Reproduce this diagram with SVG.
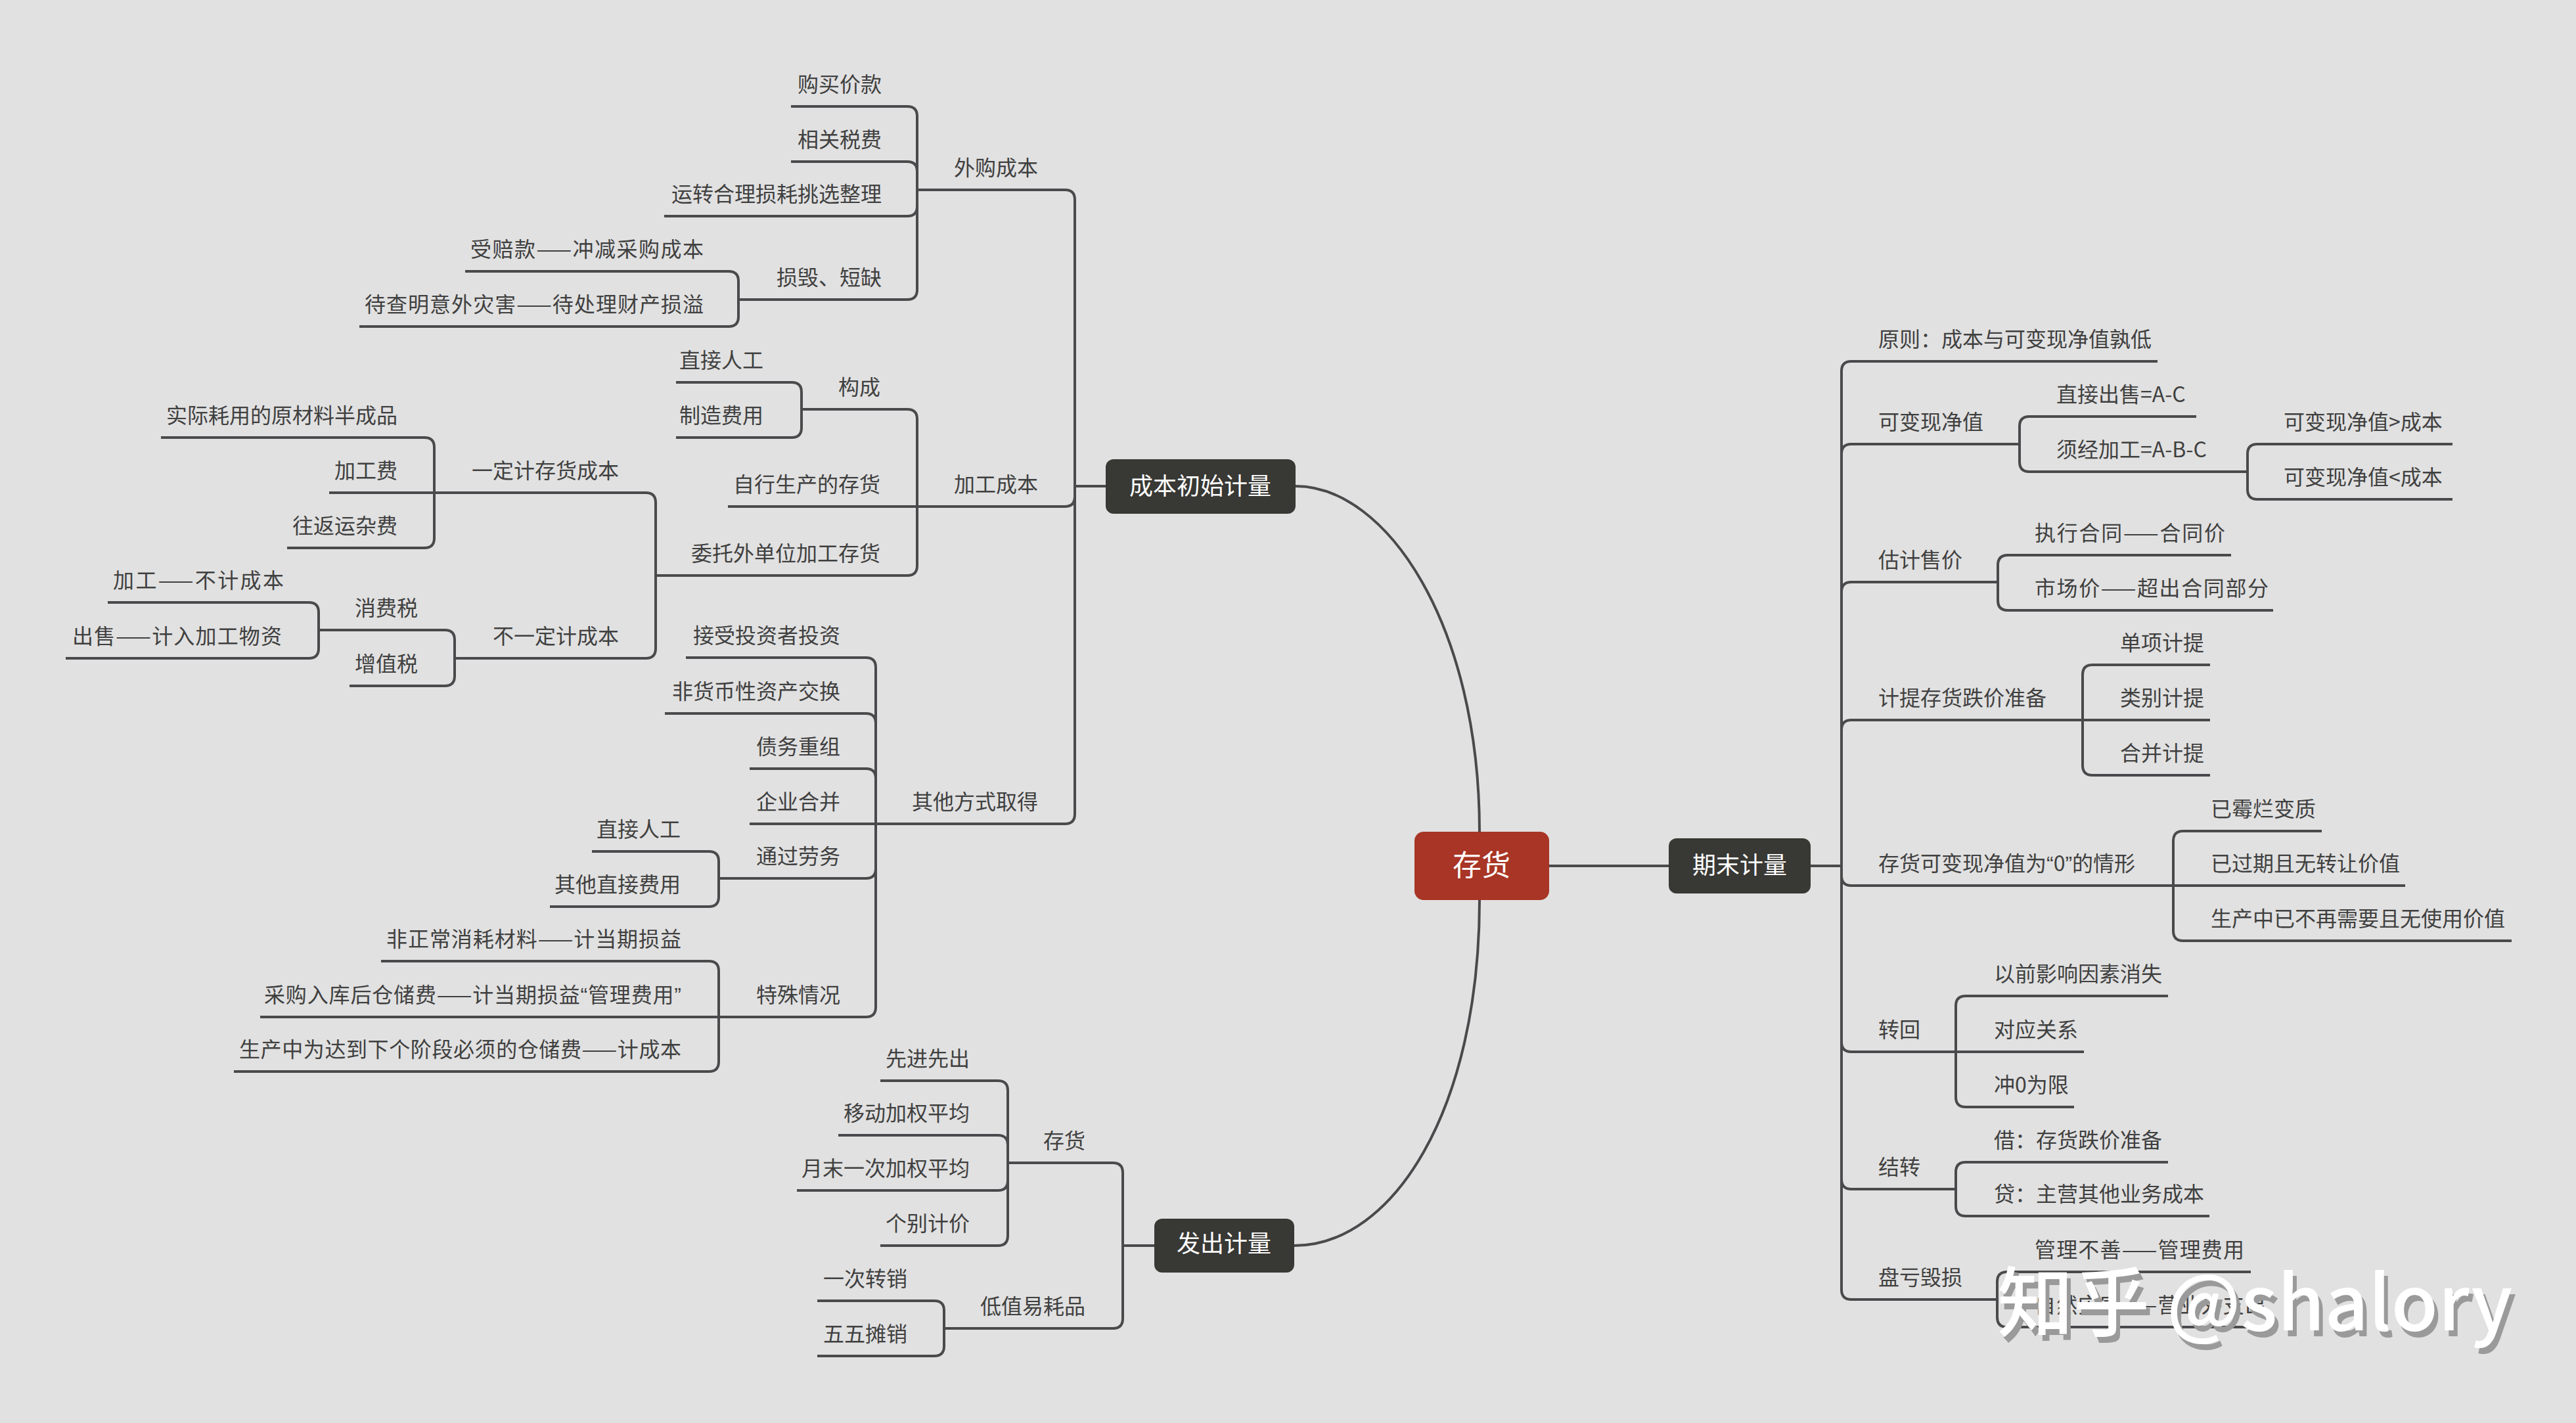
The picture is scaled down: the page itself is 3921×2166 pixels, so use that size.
<svg xmlns="http://www.w3.org/2000/svg" width="3921" height="2166" viewBox="0 0 3921 2166">
<style>
.t{font-family:"Noto Sans CJK SC","Noto Sans",sans-serif;font-size:32px;fill:#404040}
.e{text-anchor:end}
.u{fill:none;stroke:#4a4a4d;stroke-width:4;stroke-linecap:butt}
.c{fill:none;stroke:#4a4a4d;stroke-width:4;stroke-linejoin:round}
.q{font-family:"Liberation Sans",sans-serif}
.mt{font-family:"Noto Sans CJK SC","Noto Sans",sans-serif;fill:#ffffff;text-anchor:middle}
.wm{font-family:"Noto Sans CJK SC","Noto Sans",sans-serif;font-size:116px;font-weight:500}
</style>
<rect width="3921" height="2166" fill="#e1e1e1"/>

<g id="connectors">
<path class="c" d="M1972,740 C2110,740 2252,950 2252,1266"/>
<path class="c" d="M2252,1370 C2252,1690 2120,1896 1970,1896"/>
<path class="c" d="M2358,1318 H2540"/>
<path class="c" d="M1683,740 H1636"/>
<path class="c" d="M1636,740 V304 Q1636,289 1621,289 H1592"/>
<path class="c" d="M1636,740 V756 Q1636,771 1621,771 H1592"/>
<path class="c" d="M1636,740 V1239 Q1636,1254 1621,1254 H1592"/>
<path class="c" d="M1396,289 V177 Q1396,162 1381,162 H1354"/>
<path class="c" d="M1396,289 V261 Q1396,246 1381,246 H1354"/>
<path class="c" d="M1396,289 V314 Q1396,329 1381,329 H1354"/>
<path class="c" d="M1396,289 V441 Q1396,456 1381,456 H1354"/>
<path class="c" d="M1124,456 V428 Q1124,413 1109,413 H1082"/>
<path class="c" d="M1124,456 V482 Q1124,497 1109,497 H1082"/>
<path class="c" d="M1396,771 V638 Q1396,623 1381,623 H1352"/>
<path class="c" d="M1396,771 H1352"/>
<path class="c" d="M1396,771 V861 Q1396,876 1381,876 H1352"/>
<path class="c" d="M1220,623 V597 Q1220,582 1205,582 H1174"/>
<path class="c" d="M1220,623 V651 Q1220,666 1205,666 H1174"/>
<path class="c" d="M998,876 V765 Q998,750 983,750 H954"/>
<path class="c" d="M998,876 V987 Q998,1002 983,1002 H954"/>
<path class="c" d="M661,750 V681 Q661,666 646,666 H617"/>
<path class="c" d="M661,750 H617"/>
<path class="c" d="M661,750 V819 Q661,834 646,834 H617"/>
<path class="c" d="M692,1002 V974 Q692,959 677,959 H648"/>
<path class="c" d="M692,1002 V1029 Q692,1044 677,1044 H648"/>
<path class="c" d="M485,959 V932 Q485,917 470,917 H442"/>
<path class="c" d="M485,959 V987 Q485,1002 470,1002 H442"/>
<path class="c" d="M1333,1254 V1016 Q1333,1001 1318,1001 H1291"/>
<path class="c" d="M1333,1254 V1101 Q1333,1086 1318,1086 H1291"/>
<path class="c" d="M1333,1254 V1185 Q1333,1170 1318,1170 H1291"/>
<path class="c" d="M1333,1254 H1291"/>
<path class="c" d="M1333,1254 V1322 Q1333,1337 1318,1337 H1291"/>
<path class="c" d="M1333,1254 V1533 Q1333,1548 1318,1548 H1291"/>
<path class="c" d="M1094,1337 V1311 Q1094,1296 1079,1296 H1048"/>
<path class="c" d="M1094,1337 V1365 Q1094,1380 1079,1380 H1048"/>
<path class="c" d="M1094,1548 V1478 Q1094,1463 1079,1463 H1048"/>
<path class="c" d="M1094,1548 H1048"/>
<path class="c" d="M1094,1548 V1616 Q1094,1631 1079,1631 H1048"/>
<path class="c" d="M1757,1896 H1709"/>
<path class="c" d="M1709,1896 V1785 Q1709,1770 1694,1770 H1664"/>
<path class="c" d="M1709,1896 V2007 Q1709,2022 1694,2022 H1664"/>
<path class="c" d="M1534,1770 V1660 Q1534,1645 1519,1645 H1488"/>
<path class="c" d="M1534,1770 V1743 Q1534,1728 1519,1728 H1488"/>
<path class="c" d="M1534,1770 V1797 Q1534,1812 1519,1812 H1488"/>
<path class="c" d="M1534,1770 V1881 Q1534,1896 1519,1896 H1488"/>
<path class="c" d="M1437,2022 V1995 Q1437,1980 1422,1980 H1393"/>
<path class="c" d="M1437,2022 V2049 Q1437,2064 1422,2064 H1393"/>
<path class="c" d="M2756,1318 H2803"/>
<path class="c" d="M2803,1318 V565 Q2803,550 2818,550 H2847"/>
<path class="c" d="M2803,1318 V691 Q2803,676 2818,676 H2847"/>
<path class="c" d="M2803,1318 V901 Q2803,886 2818,886 H2847"/>
<path class="c" d="M2803,1318 V1111 Q2803,1096 2818,1096 H2847"/>
<path class="c" d="M2803,1318 V1333 Q2803,1348 2818,1348 H2847"/>
<path class="c" d="M2803,1318 V1586 Q2803,1601 2818,1601 H2847"/>
<path class="c" d="M2803,1318 V1795 Q2803,1810 2818,1810 H2847"/>
<path class="c" d="M2803,1318 V1963 Q2803,1978 2818,1978 H2847"/>
<path class="c" d="M3074,676 V649 Q3074,634 3089,634 H3118"/>
<path class="c" d="M3074,676 V703 Q3074,718 3089,718 H3118"/>
<path class="c" d="M3421,718 V691 Q3421,676 3436,676 H3464"/>
<path class="c" d="M3421,718 V745 Q3421,760 3436,760 H3464"/>
<path class="c" d="M3041,886 V860 Q3041,845 3056,845 H3086"/>
<path class="c" d="M3041,886 V914 Q3041,929 3056,929 H3086"/>
<path class="c" d="M3170,1096 V1027 Q3170,1012 3185,1012 H3215"/>
<path class="c" d="M3170,1096 H3215"/>
<path class="c" d="M3170,1096 V1165 Q3170,1180 3185,1180 H3215"/>
<path class="c" d="M3308,1348 V1280 Q3308,1265 3323,1265 H3353"/>
<path class="c" d="M3308,1348 H3353"/>
<path class="c" d="M3308,1348 V1417 Q3308,1432 3323,1432 H3353"/>
<path class="c" d="M2977,1601 V1531 Q2977,1516 2992,1516 H3023"/>
<path class="c" d="M2977,1601 H3023"/>
<path class="c" d="M2977,1601 V1670 Q2977,1685 2992,1685 H3023"/>
<path class="c" d="M2977,1810 V1784 Q2977,1769 2992,1769 H3023"/>
<path class="c" d="M2977,1810 V1836 Q2977,1851 2992,1851 H3023"/>
<path class="c" d="M3040,1978 V1951 Q3040,1936 3055,1936 H3086"/>
<path class="c" d="M3040,1978 V2005 Q3040,2020 3055,2020 H3086"/>
</g>

<g id="root"><rect x="2153" y="1266" width="205" height="104" rx="14" fill="#a83525"/><text class="mt" x="2255" y="1333" font-size="44">存货</text></g>
<g id="n-chengben"><rect x="1683" y="699" width="289" height="83" rx="12" fill="#383834"/><text class="mt" x="1827" y="753" font-size="36">成本初始计量</text></g>
<g id="n-qimo"><rect x="2540" y="1276" width="216" height="84" rx="12" fill="#383834"/><text class="mt" x="2648" y="1330" font-size="36">期末计量</text></g>
<g id="n-fachu"><rect x="1757" y="1855" width="213" height="82" rx="12" fill="#383834"/><text class="mt" x="1863" y="1906" font-size="36">发出计量</text></g>

<g id="a1"><path class="u" d="M1396,289 H1592"/><text class="t e" x="1580" y="267">外购成本</text></g>
<g id="a2"><path class="u" d="M1396,771 H1592"/><text class="t e" x="1580" y="749">加工成本</text></g>
<g id="a3"><path class="u" d="M1333,1254 H1592"/><text class="t e" x="1580" y="1232">其他方式取得</text></g>
<g id="b1"><path class="u" d="M1204,162 H1354"/><text class="t e" x="1342" y="140">购买价款</text></g>
<g id="b2"><path class="u" d="M1204,246 H1354"/><text class="t e" x="1342" y="224">相关税费</text></g>
<g id="b3"><path class="u" d="M1011,329 H1354"/><text class="t e" x="1342" y="307">运转合理损耗挑选整理</text></g>
<g id="b4"><path class="u" d="M1124,456 H1354"/><text class="t e" x="1342" y="434">损毁、短缺</text></g>
<g id="c1"><path class="u" d="M708,413 H1082"/><text class="t e" x="1071" y="391" textLength="355" lengthAdjust="spacing">受赔款——冲减采购成本</text></g>
<g id="c2"><path class="u" d="M547,497 H1082"/><text class="t e" x="1071" y="475" textLength="516" lengthAdjust="spacing">待查明意外灾害——待处理财产损溢</text></g>
<g id="b5"><path class="u" d="M1220,623 H1352"/><text class="t e" x="1340" y="601">构成</text></g>
<g id="b6"><path class="u" d="M1108,771 H1352"/><text class="t e" x="1340" y="749">自行生产的存货</text></g>
<g id="b7"><path class="u" d="M998,876 H1352"/><text class="t e" x="1340" y="854">委托外单位加工存货</text></g>
<g id="c3"><path class="u" d="M1029,582 H1174"/><text class="t e" x="1162" y="560">直接人工</text></g>
<g id="c4"><path class="u" d="M1029,666 H1174"/><text class="t e" x="1162" y="644">制造费用</text></g>
<g id="c5"><path class="u" d="M661,750 H954"/><text class="t e" x="942" y="728">一定计存货成本</text></g>
<g id="c6"><path class="u" d="M692,1002 H954"/><text class="t e" x="942" y="980">不一定计成本</text></g>
<g id="d1"><path class="u" d="M245,666 H617"/><text class="t e" x="605" y="644">实际耗用的原材料半成品</text></g>
<g id="d2"><path class="u" d="M501,750 H617"/><text class="t e" x="605" y="728">加工费</text></g>
<g id="d3"><path class="u" d="M437,834 H617"/><text class="t e" x="605" y="812">往返运杂费</text></g>
<g id="d4"><path class="u" d="M485,959 H648"/><text class="t e" x="636" y="937">消费税</text></g>
<g id="d5"><path class="u" d="M532,1044 H648"/><text class="t e" x="636" y="1022">增值税</text></g>
<g id="e1"><path class="u" d="M164,917 H442"/><text class="t e" x="432" y="895" textLength="260" lengthAdjust="spacing">加工——不计成本</text></g>
<g id="e2"><path class="u" d="M100,1002 H442"/><text class="t e" x="429" y="980" textLength="319" lengthAdjust="spacing">出售——计入加工物资</text></g>
<g id="b8"><path class="u" d="M1044,1001 H1291"/><text class="t e" x="1279" y="979">接受投资者投资</text></g>
<g id="b9"><path class="u" d="M1012,1086 H1291"/><text class="t e" x="1279" y="1064">非货币性资产交换</text></g>
<g id="b10"><path class="u" d="M1141,1170 H1291"/><text class="t e" x="1279" y="1148">债务重组</text></g>
<g id="b11"><path class="u" d="M1141,1254 H1291"/><text class="t e" x="1279" y="1232">企业合并</text></g>
<g id="b12"><path class="u" d="M1094,1337 H1291"/><text class="t e" x="1279" y="1315">通过劳务</text></g>
<g id="b13"><path class="u" d="M1094,1548 H1291"/><text class="t e" x="1279" y="1526">特殊情况</text></g>
<g id="c7"><path class="u" d="M901,1296 H1048"/><text class="t e" x="1036" y="1274">直接人工</text></g>
<g id="c8"><path class="u" d="M837,1380 H1048"/><text class="t e" x="1036" y="1358">其他直接费用</text></g>
<g id="c9"><path class="u" d="M580,1463 H1048"/><text class="t e" x="1037" y="1441" textLength="449" lengthAdjust="spacing">非正常消耗材料——计当期损益</text></g>
<g id="c10"><path class="u" d="M396,1548 H1048"/><text class="t e" x="1037" y="1526" textLength="635" lengthAdjust="spacing">采购入库后仓储费——计当期损益<tspan class="q">“</tspan>管理费用<tspan class="q">”</tspan></text></g>
<g id="c11"><path class="u" d="M356,1631 H1048"/><text class="t e" x="1037" y="1609" textLength="673" lengthAdjust="spacing">生产中为达到下个阶段必须的仓储费——计成本</text></g>
<g id="f1"><path class="u" d="M1534,1770 H1664"/><text class="t e" x="1652" y="1748">存货</text></g>
<g id="f2"><path class="u" d="M1437,2022 H1664"/><text class="t e" x="1652" y="2000">低值易耗品</text></g>
<g id="g1"><path class="u" d="M1340,1645 H1488"/><text class="t e" x="1476" y="1623">先进先出</text></g>
<g id="g2"><path class="u" d="M1276,1728 H1488"/><text class="t e" x="1476" y="1706">移动加权平均</text></g>
<g id="g3"><path class="u" d="M1213,1812 H1488"/><text class="t e" x="1476" y="1790">月末一次加权平均</text></g>
<g id="g4"><path class="u" d="M1340,1896 H1488"/><text class="t e" x="1476" y="1874">个别计价</text></g>
<g id="g5"><path class="u" d="M1244,1980 H1393"/><text class="t e" x="1381" y="1958">一次转销</text></g>
<g id="g6"><path class="u" d="M1244,2064 H1393"/><text class="t e" x="1381" y="2042">五五摊销</text></g>

<g id="h1"><path class="u" d="M2847,550 H3284"/><text class="t" x="2859" y="528">原则：成本与可变现净值孰低</text></g>
<g id="h2"><path class="u" d="M2847,676 H3074"/><text class="t" x="2859" y="654">可变现净值</text></g>
<g id="h3"><path class="u" d="M2847,886 H3041"/><text class="t" x="2859" y="864">估计售价</text></g>
<g id="h4"><path class="u" d="M2847,1096 H3170"/><text class="t" x="2859" y="1074">计提存货跌价准备</text></g>
<g id="h5"><path class="u" d="M2847,1348 H3308"/><text class="t" x="2859" y="1326">存货可变现净值为<tspan class="q">“</tspan>0<tspan class="q">”</tspan>的情形</text></g>
<g id="h6"><path class="u" d="M2847,1601 H2977"/><text class="t" x="2859" y="1579">转回</text></g>
<g id="h7"><path class="u" d="M2847,1810 H2977"/><text class="t" x="2859" y="1788">结转</text></g>
<g id="h8"><path class="u" d="M2847,1978 H3040"/><text class="t" x="2859" y="1956">盘亏毁损</text></g>
<g id="i1"><path class="u" d="M3118,634 H3343"/><text class="t" x="3130" y="612">直接出售=A-C</text></g>
<g id="i2"><path class="u" d="M3118,718 H3421"/><text class="t" x="3130" y="696">须经加工=A-B-C</text></g>
<g id="j1"><path class="u" d="M3464,676 H3733"/><text class="t" x="3476" y="654">可变现净值&gt;成本</text></g>
<g id="j2"><path class="u" d="M3464,760 H3733"/><text class="t" x="3476" y="738">可变现净值&lt;成本</text></g>
<g id="i3"><path class="u" d="M3086,845 H3396"/><text class="t" x="3097" y="823" textLength="290" lengthAdjust="spacing">执行合同——合同价</text></g>
<g id="i4"><path class="u" d="M3086,929 H3460"/><text class="t" x="3097" y="907" textLength="356" lengthAdjust="spacing">市场价——超出合同部分</text></g>
<g id="i5"><path class="u" d="M3215,1012 H3364"/><text class="t" x="3227" y="990">单项计提</text></g>
<g id="i6"><path class="u" d="M3215,1096 H3364"/><text class="t" x="3227" y="1074">类别计提</text></g>
<g id="i7"><path class="u" d="M3215,1180 H3364"/><text class="t" x="3227" y="1158">合并计提</text></g>
<g id="i8"><path class="u" d="M3353,1265 H3534"/><text class="t" x="3365" y="1243">已霉烂变质</text></g>
<g id="i9"><path class="u" d="M3353,1348 H3661"/><text class="t" x="3365" y="1326">已过期且无转让价值</text></g>
<g id="i10"><path class="u" d="M3353,1432 H3823"/><text class="t" x="3365" y="1410">生产中已不再需要且无使用价值</text></g>
<g id="i11"><path class="u" d="M3023,1516 H3300"/><text class="t" x="3035" y="1494">以前影响因素消失</text></g>
<g id="i12"><path class="u" d="M3023,1601 H3172"/><text class="t" x="3035" y="1579">对应关系</text></g>
<g id="i13"><path class="u" d="M3023,1685 H3157"/><text class="t" x="3035" y="1663">冲0为限</text></g>
<g id="i14"><path class="u" d="M3023,1769 H3300"/><text class="t" x="3035" y="1747">借：存货跌价准备</text></g>
<g id="i15"><path class="u" d="M3023,1851 H3363"/><text class="t" x="3035" y="1829">贷：主营其他业务成本</text></g>
<g id="i16"><path class="u" d="M3086,1936 H3426"/><text class="t" x="3097" y="1914" textLength="319" lengthAdjust="spacing">管理不善——管理费用</text></g>
<g id="i17"><path class="u" d="M3086,2020 H3460"/><text class="t" x="3097" y="1998" textLength="352" lengthAdjust="spacing">自然灾害——营业外支出</text></g>

<g id="watermark">
<text class="wm" x="3046" y="2034" fill="#9a9a9a">知乎 @shalory</text>
<text class="wm" x="3040" y="2025" fill="#ffffff">知乎 @shalory</text>
</g>
</svg>
